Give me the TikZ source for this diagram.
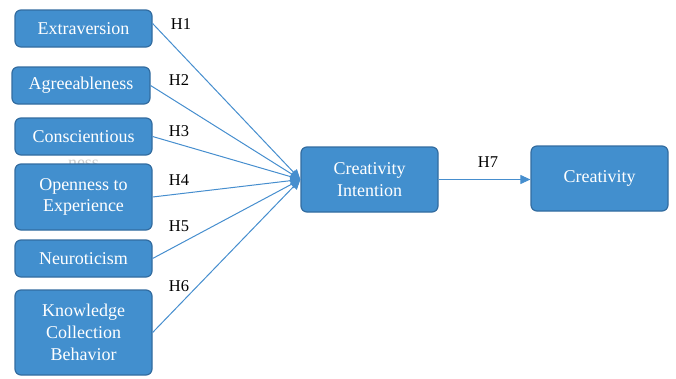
\documentclass[tikz,border=0pt]{standalone}
\usepackage{fontspec}
\setmainfont{Liberation Serif}
\usetikzlibrary{arrows.meta}
\definecolor{boxfill}{RGB}{66,143,206}
\definecolor{boxdraw}{RGB}{50,108,160}
\definecolor{linkblue}{RGB}{70,142,206}
\tikzset{
  var/.style={draw=boxdraw, line width=1.2pt, fill=boxfill, rounded corners=6pt,
    text=white, align=center, inner sep=0pt, font=\fontsize{18}{21.7}\selectfont},
  link/.style={draw=linkblue, line width=1pt, -{Triangle[length=10pt,width=9pt]}},
  hlab/.style={font=\fontsize{16.5}{19}\selectfont, text=black, inner sep=0pt}
}
\begin{document}
\begin{tikzpicture}[x=1pt,y=-1pt]
\useasboundingbox (0,0) rectangle (676,378);
\node[var, minimum width=137pt, minimum height=37pt] (ext) at (83.5,28.5) {Extraversion};
\node[var, minimum width=138pt, minimum height=37pt] (agr) at (81,85.5) {Agreeableness};
\node[hlab, text=gray!40, font=\fontsize{18}{21}\selectfont] (ness) at (83.5,164) {ness};
\node[var, minimum width=137pt, minimum height=37pt] (con) at (83.5,136.5) {Conscientious};
\node[var, minimum width=137pt, minimum height=66pt] (ope) at (83.5,197) {Openness to\\Experience};
\node[var, minimum width=137pt, minimum height=37pt] (neu) at (83.5,258.5) {Neuroticism};
\node[var, minimum width=137pt, minimum height=85pt] (kcb) at (83.5,332.5) {Knowledge\\Collection\\Behavior};
\node[var, minimum width=137pt, minimum height=65pt] (ci) at (369.5,179.5) {Creativity\\Intention};
\node[var, minimum width=137pt, minimum height=65pt] (cr) at (599.5,178.5) {Creativity};

\draw[link] ([yshift=5pt]ext.east) -- (ci.west);
\draw[link] (agr.east) -- (ci.west);
\draw[link] (con.east) -- (ci.west);
\draw[link] (ope.east) -- (ci.west);
\draw[link] (neu.east) -- (ci.west);
\draw[link] (kcb.east) -- (ci.west);
\draw[link] (ci.east) -- (cr.west |- ci.east);

\node[hlab] (h1) at (181,24) {H1};
\node[hlab] (h2) at (179,80) {H2};
\node[hlab] (h3) at (179,131) {H3};
\node[hlab] (h4) at (179,180) {H4};
\node[hlab] (h5) at (179,226) {H5};
\node[hlab] (h6) at (179,286) {H6};
\node[hlab] (h7) at (488,162) {H7};
\end{tikzpicture}
\end{document}
